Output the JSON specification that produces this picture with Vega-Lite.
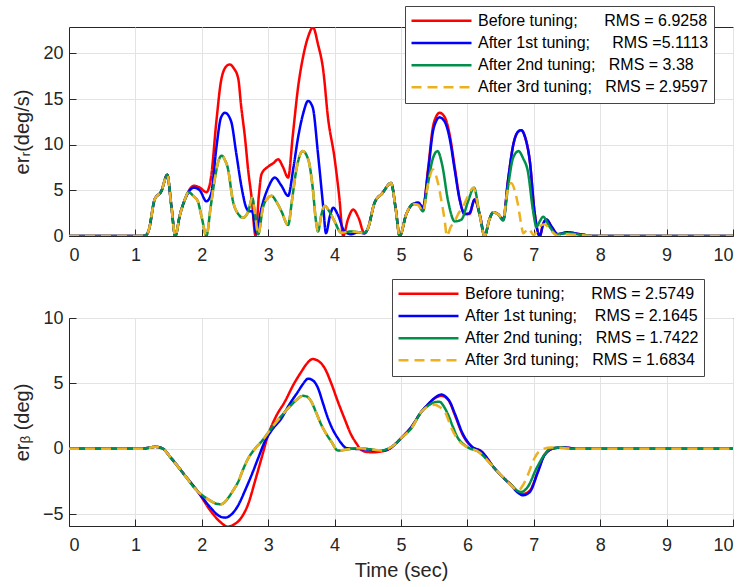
{
"$schema":"https://vega.github.io/schema/vega-lite/v6.json",
"padding":{"left":11,"top":5,"right":0,"bottom":5},
"background":"white",
"config":{
 "font":"Liberation Sans",
 "view":{"stroke":"#262626","strokeWidth":1},
 "axis":{"labelFont":"Liberation Sans","labelFontSize":18,"labelColor":"#262626","titleFont":"Liberation Sans, DejaVu Sans","titleFontSize":20,"titleFontWeight":"normal","titleColor":"#262626","gridColor":"#e3e3e3","gridWidth":1,"domainColor":"#262626","tickColor":"#262626","tickSize":-7}
},
"spacing":82,
"bounds":"flush",
"datasets":{
"top":[
{"s":"a","t":0,"v":0},{"s":"a","t":1.1,"v":0},{"s":"a","t":1.15,"v":0.05},{"s":"a","t":1.2,"v":0.6},{"s":"a","t":1.29,"v":4.0},{"s":"a","t":1.39,"v":4.9},{"s":"a","t":1.48,"v":6.7},{"s":"a","t":1.54,"v":3.4},{"s":"a","t":1.6,"v":0},{"s":"a","t":1.67,"v":2.3},{"s":"a","t":1.74,"v":3.9},{"s":"a","t":1.8,"v":4.9},
{"s":"a","t":1.88,"v":5.5},{"s":"a","t":1.97,"v":5.3},{"s":"a","t":2.07,"v":4.8},{"s":"a","t":2.14,"v":6.5},{"s":"a","t":2.22,"v":12.6},{"s":"a","t":2.29,"v":17.0},{"s":"a","t":2.37,"v":18.6},{"s":"a","t":2.42,"v":18.8},{"s":"a","t":2.48,"v":18.4},{"s":"a","t":2.55,"v":17.2},{"s":"a","t":2.59,"v":14.4},{"s":"a","t":2.65,"v":10.8},{"s":"a","t":2.7,"v":7.1},{"s":"a","t":2.75,"v":4.2},{"s":"a","t":2.81,"v":0},{"s":"a","t":2.86,"v":4.5},{"s":"a","t":2.9,"v":6.8},{"s":"a","t":3.0,"v":7.6},{"s":"a","t":3.08,"v":8.0},{"s":"a","t":3.15,"v":8.4},{"s":"a","t":3.22,"v":7.6},{"s":"a","t":3.3,"v":6.4},{"s":"a","t":3.37,"v":11.0},{"s":"a","t":3.45,"v":16.3},{"s":"a","t":3.53,"v":19.8},{"s":"a","t":3.6,"v":21.8},{"s":"a","t":3.675,"v":22.85},{"s":"a","t":3.75,"v":21.0},{"s":"a","t":3.83,"v":18.1},{"s":"a","t":3.9,"v":13.0},{"s":"a","t":4.0,"v":8.5},{"s":"a","t":4.07,"v":4.3},{"s":"a","t":4.13,"v":0},{"s":"a","t":4.2,"v":1.8},{"s":"a","t":4.28,"v":2.9},{"s":"a","t":4.36,"v":2.0},{"s":"a","t":4.45,"v":0.3},
{"s":"a","t":4.5,"v":0.8},{"s":"a","t":4.6,"v":3.6},{"s":"a","t":4.72,"v":4.7},{"s":"a","t":4.85,"v":5.8},{"s":"a","t":4.92,"v":3.0},{"s":"a","t":4.98,"v":0},{"s":"a","t":5.08,"v":2.4},{"s":"a","t":5.18,"v":3.5},
{"s":"a","t":5.26,"v":3.65},{"s":"a","t":5.33,"v":3.1},{"s":"a","t":5.41,"v":7.5},{"s":"a","t":5.48,"v":11.9},{"s":"a","t":5.53,"v":13.1},{"s":"a","t":5.58,"v":13.5},{"s":"a","t":5.66,"v":13.0},{"s":"a","t":5.73,"v":11.2},{"s":"a","t":5.81,"v":7.5},{"s":"a","t":5.88,"v":4.2},{"s":"a","t":5.96,"v":2.4},{"s":"a","t":6.03,"v":2.4},{"s":"a","t":6.11,"v":4.0},{"s":"a","t":6.19,"v":2.2},{"s":"a","t":6.26,"v":0},{"s":"a","t":6.33,"v":1.8},{"s":"a","t":6.39,"v":2.6},{"s":"a","t":6.46,"v":2.4},{"s":"a","t":6.54,"v":1.8},{"s":"a","t":6.61,"v":6.0},{"s":"a","t":6.7,"v":10.3},{"s":"a","t":6.76,"v":11.4},{"s":"a","t":6.81,"v":11.6},{"s":"a","t":6.87,"v":10.8},{"s":"a","t":6.94,"v":8.2},{"s":"a","t":7.01,"v":2.7},{"s":"a","t":7.09,"v":0},{"s":"a","t":7.14,"v":1.3},{"s":"a","t":7.19,"v":1.8},{"s":"a","t":7.27,"v":1.0},{"s":"a","t":7.36,"v":0.2},{"s":"a","t":7.5,"v":0.4},{"s":"a","t":7.7,"v":0.2},{"s":"a","t":7.9,"v":0},{"s":"a","t":10,"v":0},

{"s":"b","t":0,"v":0},{"s":"b","t":1.1,"v":0},{"s":"b","t":1.15,"v":0.05},{"s":"b","t":1.2,"v":0.6},{"s":"b","t":1.29,"v":4.0},{"s":"b","t":1.39,"v":4.9},{"s":"b","t":1.48,"v":6.7},{"s":"b","t":1.54,"v":3.4},{"s":"b","t":1.6,"v":0},{"s":"b","t":1.67,"v":2.3},{"s":"b","t":1.74,"v":3.9},{"s":"b","t":1.8,"v":4.8},
{"s":"b","t":1.88,"v":5.3},{"s":"b","t":1.97,"v":5.0},{"s":"b","t":2.07,"v":3.8},{"s":"b","t":2.14,"v":4.6},{"s":"b","t":2.22,"v":9.7},{"s":"b","t":2.29,"v":13.0},{"s":"b","t":2.35,"v":13.5},{"s":"b","t":2.44,"v":12.6},{"s":"b","t":2.52,"v":9.0},{"s":"b","t":2.6,"v":5.3},{"s":"b","t":2.67,"v":3.1},{"s":"b","t":2.72,"v":2.7},{"s":"b","t":2.76,"v":2.7},{"s":"b","t":2.82,"v":0.3},{"s":"b","t":2.9,"v":3.1},{"s":"b","t":3.0,"v":5.3},{"s":"b","t":3.1,"v":6.4},{"s":"b","t":3.2,"v":5.5},{"s":"b","t":3.3,"v":4.4},{"s":"b","t":3.38,"v":7.5},{"s":"b","t":3.45,"v":10.8},{"s":"b","t":3.53,"v":13.5},{"s":"b","t":3.6,"v":14.8},{"s":"b","t":3.67,"v":14.1},{"s":"b","t":3.75,"v":9.0},{"s":"b","t":3.83,"v":3.1},{"s":"b","t":3.87,"v":0.3},{"s":"b","t":3.93,"v":2.2},{"s":"b","t":3.98,"v":3.1},{"s":"b","t":4.05,"v":2.3},{"s":"b","t":4.15,"v":0.5},{"s":"b","t":4.25,"v":0.2},{"s":"b","t":4.35,"v":0.4},{"s":"b","t":4.45,"v":0.3},
{"s":"b","t":4.5,"v":0.8},{"s":"b","t":4.6,"v":3.6},{"s":"b","t":4.72,"v":4.7},{"s":"b","t":4.85,"v":5.8},{"s":"b","t":4.92,"v":3.0},{"s":"b","t":4.98,"v":0},{"s":"b","t":5.08,"v":2.4},{"s":"b","t":5.18,"v":3.5},
{"s":"b","t":5.26,"v":3.65},{"s":"b","t":5.33,"v":3.1},{"s":"b","t":5.41,"v":7.2},{"s":"b","t":5.48,"v":11.4},{"s":"b","t":5.53,"v":12.6},{"s":"b","t":5.58,"v":13.0},{"s":"b","t":5.66,"v":12.5},{"s":"b","t":5.73,"v":10.8},{"s":"b","t":5.81,"v":7.2},{"s":"b","t":5.88,"v":4.1},{"s":"b","t":5.96,"v":2.4},{"s":"b","t":6.03,"v":2.5},{"s":"b","t":6.11,"v":4.0},{"s":"b","t":6.19,"v":2.2},{"s":"b","t":6.26,"v":0},{"s":"b","t":6.33,"v":1.8},{"s":"b","t":6.39,"v":2.6},{"s":"b","t":6.46,"v":2.4},{"s":"b","t":6.54,"v":1.8},{"s":"b","t":6.61,"v":6.0},{"s":"b","t":6.7,"v":10.3},{"s":"b","t":6.76,"v":11.4},{"s":"b","t":6.81,"v":11.6},{"s":"b","t":6.87,"v":10.8},{"s":"b","t":6.94,"v":8.2},{"s":"b","t":7.01,"v":2.7},{"s":"b","t":7.09,"v":0},{"s":"b","t":7.14,"v":1.3},{"s":"b","t":7.19,"v":1.8},{"s":"b","t":7.27,"v":1.0},{"s":"b","t":7.36,"v":0.2},{"s":"b","t":7.5,"v":0.4},{"s":"b","t":7.7,"v":0.2},{"s":"b","t":7.9,"v":0},{"s":"b","t":10,"v":0},

{"s":"c","t":0,"v":0},{"s":"c","t":1.1,"v":0},{"s":"c","t":1.15,"v":0.05},{"s":"c","t":1.2,"v":0.6},{"s":"c","t":1.29,"v":4.0},{"s":"c","t":1.39,"v":4.9},{"s":"c","t":1.48,"v":6.7},{"s":"c","t":1.54,"v":3.4},{"s":"c","t":1.6,"v":0},{"s":"c","t":1.67,"v":2.3},{"s":"c","t":1.74,"v":3.9},{"s":"c","t":1.8,"v":4.8},
{"s":"c","t":1.87,"v":4.4},{"s":"c","t":1.94,"v":3.8},{"s":"c","t":2.0,"v":2.0},{"s":"c","t":2.07,"v":0},{"s":"c","t":2.13,"v":3.0},{"s":"c","t":2.19,"v":6.0},{"s":"c","t":2.25,"v":8.2},{"s":"c","t":2.3,"v":8.8},{"s":"c","t":2.35,"v":8.3},{"s":"c","t":2.39,"v":7.5},{"s":"c","t":2.47,"v":3.8},{"s":"c","t":2.55,"v":2.4},{"s":"c","t":2.62,"v":2.0},{"s":"c","t":2.7,"v":2.7},{"s":"c","t":2.76,"v":4.2},{"s":"c","t":2.8,"v":2.5},{"s":"c","t":2.85,"v":0.2},{"s":"c","t":2.92,"v":3.1},{"s":"c","t":3.0,"v":4.2},{"s":"c","t":3.05,"v":4.4},{"s":"c","t":3.12,"v":3.8},{"s":"c","t":3.2,"v":2.7},{"s":"c","t":3.3,"v":1.2},{"s":"c","t":3.36,"v":4.0},{"s":"c","t":3.42,"v":7.1},{"s":"c","t":3.52,"v":9.3},{"s":"c","t":3.58,"v":8.8},{"s":"c","t":3.62,"v":7.9},{"s":"c","t":3.67,"v":5.3},{"s":"c","t":3.72,"v":1.6},{"s":"c","t":3.75,"v":0.5},{"s":"c","t":3.8,"v":2.3},{"s":"c","t":3.85,"v":3.3},{"s":"c","t":3.92,"v":2.7},{"s":"c","t":4.0,"v":1.6},{"s":"c","t":4.1,"v":0.35},{"s":"c","t":4.25,"v":0.5},{"s":"c","t":4.45,"v":0.35},
{"s":"c","t":4.5,"v":0.8},{"s":"c","t":4.6,"v":3.6},{"s":"c","t":4.72,"v":4.7},{"s":"c","t":4.85,"v":5.8},{"s":"c","t":4.92,"v":3.0},{"s":"c","t":4.98,"v":0},{"s":"c","t":5.08,"v":2.4},{"s":"c","t":5.18,"v":3.5},
{"s":"c","t":5.26,"v":3.4},{"s":"c","t":5.33,"v":2.7},{"s":"c","t":5.4,"v":5.5},{"s":"c","t":5.48,"v":8.5},{"s":"c","t":5.55,"v":9.3},{"s":"c","t":5.62,"v":7.8},{"s":"c","t":5.71,"v":3.8},{"s":"c","t":5.81,"v":1.6},{"s":"c","t":5.91,"v":1.8},{"s":"c","t":6.01,"v":3.8},{"s":"c","t":6.1,"v":5.3},{"s":"c","t":6.18,"v":2.5},{"s":"c","t":6.26,"v":0},{"s":"c","t":6.33,"v":1.8},{"s":"c","t":6.39,"v":2.6},{"s":"c","t":6.46,"v":2.4},{"s":"c","t":6.54,"v":1.7},{"s":"c","t":6.61,"v":5.3},{"s":"c","t":6.69,"v":8.6},{"s":"c","t":6.77,"v":9.3},{"s":"c","t":6.84,"v":8.5},{"s":"c","t":6.91,"v":7.1},{"s":"c","t":6.99,"v":2.7},{"s":"c","t":7.04,"v":1.0},{"s":"c","t":7.09,"v":1.6},{"s":"c","t":7.14,"v":2.1},{"s":"c","t":7.24,"v":1.0},{"s":"c","t":7.34,"v":0.2},{"s":"c","t":7.5,"v":0.3},{"s":"c","t":7.7,"v":0.15},{"s":"c","t":7.9,"v":0},{"s":"c","t":10,"v":0},

{"s":"d","t":0,"v":0},{"s":"d","t":1.1,"v":0},{"s":"d","t":1.15,"v":0.05},{"s":"d","t":1.2,"v":0.6},{"s":"d","t":1.29,"v":4.0},{"s":"d","t":1.39,"v":4.9},{"s":"d","t":1.48,"v":6.7},{"s":"d","t":1.54,"v":3.4},{"s":"d","t":1.6,"v":0},{"s":"d","t":1.67,"v":2.3},{"s":"d","t":1.74,"v":3.9},{"s":"d","t":1.8,"v":4.8},
{"s":"d","t":1.87,"v":4.4},{"s":"d","t":1.94,"v":3.8},{"s":"d","t":2.0,"v":2.0},{"s":"d","t":2.07,"v":0},{"s":"d","t":2.13,"v":3.0},{"s":"d","t":2.19,"v":6.0},{"s":"d","t":2.25,"v":8.2},{"s":"d","t":2.3,"v":8.8},{"s":"d","t":2.35,"v":8.3},{"s":"d","t":2.39,"v":7.5},{"s":"d","t":2.47,"v":3.8},{"s":"d","t":2.55,"v":2.4},{"s":"d","t":2.62,"v":2.0},{"s":"d","t":2.7,"v":2.7},{"s":"d","t":2.76,"v":4.2},{"s":"d","t":2.8,"v":2.5},{"s":"d","t":2.85,"v":0.2},{"s":"d","t":2.92,"v":3.1},{"s":"d","t":3.0,"v":4.2},{"s":"d","t":3.05,"v":4.4},{"s":"d","t":3.12,"v":3.8},{"s":"d","t":3.2,"v":2.7},{"s":"d","t":3.3,"v":1.2},{"s":"d","t":3.36,"v":4.0},{"s":"d","t":3.42,"v":7.1},{"s":"d","t":3.52,"v":9.3},{"s":"d","t":3.58,"v":8.8},{"s":"d","t":3.62,"v":7.9},{"s":"d","t":3.67,"v":5.3},{"s":"d","t":3.72,"v":1.6},{"s":"d","t":3.75,"v":0.5},{"s":"d","t":3.8,"v":2.3},{"s":"d","t":3.85,"v":3.3},{"s":"d","t":3.92,"v":2.7},{"s":"d","t":4.0,"v":1.6},{"s":"d","t":4.1,"v":0.35},{"s":"d","t":4.25,"v":0.5},{"s":"d","t":4.45,"v":0.35},
{"s":"d","t":4.5,"v":0.8},{"s":"d","t":4.6,"v":3.6},{"s":"d","t":4.72,"v":4.7},{"s":"d","t":4.85,"v":5.8},{"s":"d","t":4.92,"v":3.0},{"s":"d","t":4.98,"v":0},{"s":"d","t":5.08,"v":2.4},{"s":"d","t":5.18,"v":3.5},
{"s":"d","t":5.26,"v":3.4},{"s":"d","t":5.33,"v":2.7},{"s":"d","t":5.41,"v":5.8},{"s":"d","t":5.48,"v":7.3},{"s":"d","t":5.56,"v":5.7},{"s":"d","t":5.61,"v":3.8},{"s":"d","t":5.66,"v":1.6},{"s":"d","t":5.69,"v":0},{"s":"d","t":5.75,"v":1.0},{"s":"d","t":5.81,"v":1.6},{"s":"d","t":5.86,"v":2.4},{"s":"d","t":5.94,"v":3.3},{"s":"d","t":6.01,"v":4.4},{"s":"d","t":6.09,"v":5.3},{"s":"d","t":6.18,"v":2.5},{"s":"d","t":6.26,"v":0},{"s":"d","t":6.33,"v":1.8},{"s":"d","t":6.39,"v":2.6},{"s":"d","t":6.46,"v":2.4},{"s":"d","t":6.54,"v":1.9},{"s":"d","t":6.6,"v":4.8},{"s":"d","t":6.66,"v":5.8},{"s":"d","t":6.72,"v":4.8},{"s":"d","t":6.76,"v":3.5},{"s":"d","t":6.81,"v":1.3},{"s":"d","t":6.84,"v":0.3},{"s":"d","t":6.92,"v":0.8},{"s":"d","t":7.0,"v":0.1},{"s":"d","t":7.08,"v":1.0},{"s":"d","t":7.16,"v":1.3},{"s":"d","t":7.26,"v":0.6},{"s":"d","t":7.36,"v":0},{"s":"d","t":7.5,"v":0.2},{"s":"d","t":7.7,"v":0.1},{"s":"d","t":7.9,"v":0},{"s":"d","t":10,"v":0}
],
"bot":[
{"s":"a","t":0,"v":0},{"s":"a","t":1.1,"v":0},{"s":"a","t":1.2,"v":0.08},{"s":"a","t":1.3,"v":0.15},{"s":"a","t":1.4,"v":0.05},{"s":"a","t":1.54,"v":-0.72},{"s":"a","t":1.74,"v":-2.0},{"s":"a","t":1.94,"v":-3.27},
{"s":"a","t":2.14,"v":-4.8},{"s":"a","t":2.28,"v":-5.6},{"s":"a","t":2.39,"v":-5.95},{"s":"a","t":2.48,"v":-5.8},{"s":"a","t":2.59,"v":-5.3},{"s":"a","t":2.7,"v":-4.2},{"s":"a","t":2.8,"v":-2.5},{"s":"a","t":2.9,"v":-0.7},{"s":"a","t":3.0,"v":1.07},{"s":"a","t":3.12,"v":2.5},{"s":"a","t":3.25,"v":3.6},{"s":"a","t":3.38,"v":4.9},{"s":"a","t":3.5,"v":5.9},{"s":"a","t":3.58,"v":6.5},{"s":"a","t":3.67,"v":6.86},{"s":"a","t":3.76,"v":6.7},{"s":"a","t":3.85,"v":6.17},{"s":"a","t":3.95,"v":5.0},{"s":"a","t":4.05,"v":3.6},{"s":"a","t":4.15,"v":2.3},{"s":"a","t":4.25,"v":1.07},{"s":"a","t":4.33,"v":0.4},{"s":"a","t":4.4,"v":-0.08},{"s":"a","t":4.5,"v":-0.25},{"s":"a","t":4.6,"v":-0.26},{"s":"a","t":4.7,"v":-0.2},{"s":"a","t":4.8,"v":-0.08},{"s":"a","t":4.9,"v":0.3},{"s":"a","t":5.0,"v":0.8},{"s":"a","t":5.16,"v":1.7},{"s":"a","t":5.31,"v":2.85},{"s":"a","t":5.41,"v":3.4},{"s":"a","t":5.51,"v":3.87},{"s":"a","t":5.61,"v":4.05},{"s":"a","t":5.68,"v":3.9},{"s":"a","t":5.73,"v":3.6},{"s":"a","t":5.81,"v":2.6},{"s":"a","t":5.93,"v":1.07},{"s":"a","t":6.06,"v":0.18},{"s":"a","t":6.21,"v":-0.2},{"s":"a","t":6.41,"v":-1.5},{"s":"a","t":6.56,"v":-2.3},{"s":"a","t":6.66,"v":-2.75},{"s":"a","t":6.76,"v":-3.3},{"s":"a","t":6.84,"v":-3.45},{"s":"a","t":6.94,"v":-3.2},{"s":"a","t":7.06,"v":-1.74},{"s":"a","t":7.16,"v":-0.46},{"s":"a","t":7.31,"v":0.05},{"s":"a","t":7.46,"v":0.1},{"s":"a","t":7.66,"v":0},{"s":"a","t":10,"v":0},

{"s":"b","t":0,"v":0},{"s":"b","t":1.1,"v":0},{"s":"b","t":1.2,"v":0.08},{"s":"b","t":1.3,"v":0.15},{"s":"b","t":1.4,"v":0.05},{"s":"b","t":1.54,"v":-0.72},{"s":"b","t":1.74,"v":-2.0},{"s":"b","t":1.94,"v":-3.27},
{"s":"b","t":2.14,"v":-4.54},{"s":"b","t":2.25,"v":-5.1},{"s":"b","t":2.35,"v":-5.26},{"s":"b","t":2.45,"v":-5.0},{"s":"b","t":2.55,"v":-4.3},{"s":"b","t":2.65,"v":-3.2},{"s":"b","t":2.75,"v":-2.0},{"s":"b","t":2.85,"v":-0.7},{"s":"b","t":2.95,"v":0.56},{"s":"b","t":3.05,"v":1.4},{"s":"b","t":3.2,"v":2.34},{"s":"b","t":3.32,"v":3.4},{"s":"b","t":3.45,"v":4.38},{"s":"b","t":3.53,"v":5.0},{"s":"b","t":3.6,"v":5.36},{"s":"b","t":3.68,"v":5.2},{"s":"b","t":3.75,"v":4.64},{"s":"b","t":3.83,"v":3.4},{"s":"b","t":3.9,"v":2.34},{"s":"b","t":3.98,"v":1.4},{"s":"b","t":4.05,"v":0.8},{"s":"b","t":4.12,"v":0.3},{"s":"b","t":4.18,"v":0.05},{"s":"b","t":4.3,"v":0},{"s":"b","t":4.5,"v":-0.05},{"s":"b","t":4.65,"v":-0.15},{"s":"b","t":4.8,"v":-0.05},{"s":"b","t":4.9,"v":0.3},{"s":"b","t":5.0,"v":0.8},{"s":"b","t":5.16,"v":1.7},{"s":"b","t":5.31,"v":2.85},{"s":"b","t":5.41,"v":3.42},{"s":"b","t":5.51,"v":3.9},{"s":"b","t":5.61,"v":4.15},{"s":"b","t":5.68,"v":3.95},{"s":"b","t":5.73,"v":3.65},{"s":"b","t":5.81,"v":2.7},{"s":"b","t":5.93,"v":1.15},{"s":"b","t":6.06,"v":0.2},{"s":"b","t":6.21,"v":-0.2},{"s":"b","t":6.41,"v":-1.5},{"s":"b","t":6.56,"v":-2.3},{"s":"b","t":6.66,"v":-2.8},{"s":"b","t":6.76,"v":-3.35},{"s":"b","t":6.84,"v":-3.55},{"s":"b","t":6.94,"v":-3.3},{"s":"b","t":7.06,"v":-1.8},{"s":"b","t":7.16,"v":-0.5},{"s":"b","t":7.31,"v":0.05},{"s":"b","t":7.46,"v":0.1},{"s":"b","t":7.66,"v":0},{"s":"b","t":10,"v":0},

{"s":"c","t":0,"v":0},{"s":"c","t":1.1,"v":0},{"s":"c","t":1.2,"v":0.08},{"s":"c","t":1.3,"v":0.15},{"s":"c","t":1.4,"v":0.05},{"s":"c","t":1.54,"v":-0.72},{"s":"c","t":1.74,"v":-2.0},{"s":"c","t":1.94,"v":-3.27},
{"s":"c","t":2.05,"v":-3.7},{"s":"c","t":2.14,"v":-4.0},{"s":"c","t":2.22,"v":-4.2},{"s":"c","t":2.29,"v":-4.24},{"s":"c","t":2.35,"v":-4.05},{"s":"c","t":2.39,"v":-3.8},{"s":"c","t":2.47,"v":-3.2},{"s":"c","t":2.55,"v":-2.5},{"s":"c","t":2.62,"v":-1.6},{"s":"c","t":2.7,"v":-0.72},{"s":"c","t":2.8,"v":0},{"s":"c","t":2.9,"v":0.56},{"s":"c","t":3.05,"v":1.58},{"s":"c","t":3.18,"v":2.4},{"s":"c","t":3.3,"v":3.1},{"s":"c","t":3.42,"v":3.7},{"s":"c","t":3.52,"v":4.05},{"s":"c","t":3.58,"v":4.0},{"s":"c","t":3.65,"v":3.6},{"s":"c","t":3.72,"v":2.8},{"s":"c","t":3.8,"v":1.84},{"s":"c","t":3.88,"v":1.1},{"s":"c","t":3.95,"v":0.56},{"s":"c","t":4.05,"v":-0.13},{"s":"c","t":4.15,"v":-0.08},{"s":"c","t":4.25,"v":0},{"s":"c","t":4.4,"v":0.05},{"s":"c","t":4.55,"v":-0.05},{"s":"c","t":4.7,"v":-0.13},{"s":"c","t":4.8,"v":0},{"s":"c","t":4.9,"v":0.3},{"s":"c","t":5.0,"v":0.8},{"s":"c","t":5.16,"v":1.6},{"s":"c","t":5.31,"v":2.85},{"s":"c","t":5.41,"v":3.3},{"s":"c","t":5.5,"v":3.55},{"s":"c","t":5.58,"v":3.6},{"s":"c","t":5.65,"v":3.2},{"s":"c","t":5.71,"v":2.6},{"s":"c","t":5.78,"v":1.7},{"s":"c","t":5.86,"v":0.8},{"s":"c","t":5.93,"v":0.4},{"s":"c","t":6.01,"v":0.1},{"s":"c","t":6.16,"v":-0.2},{"s":"c","t":6.41,"v":-1.5},{"s":"c","t":6.56,"v":-2.3},{"s":"c","t":6.66,"v":-2.75},{"s":"c","t":6.75,"v":-3.2},{"s":"c","t":6.81,"v":-3.3},{"s":"c","t":6.91,"v":-2.9},{"s":"c","t":7.04,"v":-1.5},{"s":"c","t":7.16,"v":-0.46},{"s":"c","t":7.26,"v":0.03},{"s":"c","t":7.41,"v":0.1},{"s":"c","t":7.6,"v":0},{"s":"c","t":10,"v":0},

{"s":"d","t":0,"v":0},{"s":"d","t":1.1,"v":0},{"s":"d","t":1.2,"v":0.08},{"s":"d","t":1.3,"v":0.15},{"s":"d","t":1.4,"v":0.05},{"s":"d","t":1.54,"v":-0.72},{"s":"d","t":1.74,"v":-2.0},{"s":"d","t":1.94,"v":-3.27},
{"s":"d","t":2.05,"v":-3.7},{"s":"d","t":2.14,"v":-4.0},{"s":"d","t":2.22,"v":-4.2},{"s":"d","t":2.29,"v":-4.24},{"s":"d","t":2.35,"v":-4.05},{"s":"d","t":2.39,"v":-3.8},{"s":"d","t":2.47,"v":-3.2},{"s":"d","t":2.55,"v":-2.5},{"s":"d","t":2.62,"v":-1.6},{"s":"d","t":2.7,"v":-0.72},{"s":"d","t":2.8,"v":0},{"s":"d","t":2.9,"v":0.56},{"s":"d","t":3.05,"v":1.58},{"s":"d","t":3.18,"v":2.4},{"s":"d","t":3.3,"v":3.1},{"s":"d","t":3.42,"v":3.7},{"s":"d","t":3.52,"v":4.05},{"s":"d","t":3.58,"v":4.0},{"s":"d","t":3.65,"v":3.6},{"s":"d","t":3.72,"v":2.8},{"s":"d","t":3.8,"v":1.84},{"s":"d","t":3.88,"v":1.1},{"s":"d","t":3.95,"v":0.56},{"s":"d","t":4.05,"v":-0.13},{"s":"d","t":4.15,"v":-0.08},{"s":"d","t":4.25,"v":0},{"s":"d","t":4.4,"v":0.05},{"s":"d","t":4.55,"v":-0.05},{"s":"d","t":4.7,"v":-0.13},{"s":"d","t":4.8,"v":0},{"s":"d","t":4.9,"v":0.3},{"s":"d","t":5.0,"v":0.8},{"s":"d","t":5.16,"v":1.6},{"s":"d","t":5.31,"v":2.85},
{"s":"d","t":5.41,"v":3.25},{"s":"d","t":5.51,"v":3.37},{"s":"d","t":5.58,"v":3.2},{"s":"d","t":5.66,"v":2.85},{"s":"d","t":5.76,"v":1.58},{"s":"d","t":5.88,"v":0.56},{"s":"d","t":6.01,"v":0.1},{"s":"d","t":6.16,"v":-0.2},{"s":"d","t":6.41,"v":-1.5},{"s":"d","t":6.56,"v":-2.3},{"s":"d","t":6.66,"v":-2.8},{"s":"d","t":6.76,"v":-3.2},{"s":"d","t":6.84,"v":-2.75},{"s":"d","t":6.91,"v":-2.0},{"s":"d","t":7.01,"v":-0.72},{"s":"d","t":7.11,"v":-0.08},{"s":"d","t":7.26,"v":0.1},{"s":"d","t":7.46,"v":0.05},{"s":"d","t":7.6,"v":0},{"s":"d","t":10,"v":0}
]
},
"vconcat":[
{
 "width":664,"height":209,
 "data":{"name":"top"},
 "mark":{"type":"line","strokeWidth":2.5,"interpolate":"monotone","clip":true},
 "encoding":{
  "x":{"field":"t","type":"quantitative","scale":{"domain":[0,10],"nice":false},"axis":{"title":null,"values":[0,1,2,3,4,5,6,7,8,9,10],"labelPadding":17,"grid":true}},
  "y":{"field":"v","type":"quantitative","scale":{"domain":[0,22.9],"nice":false},"axis":{"title":"erᵣ(deg/s)","values":[0,5,10,15,20],"labelPadding":13,"titlePadding":10,"grid":true}},
  "color":{"field":"s","type":"nominal","scale":{"domain":["a","b","c","d"],"range":["#ff0000","#0000ff","#00904a","#edb120"]},
   "legend":{"orient":"none","legendX":336,"legendY":-21,"title":null,"symbolType":"stroke","symbolSize":3600,"symbolStrokeWidth":2.5,"labelFont":"Liberation Sans","labelFontSize":16,"labelColor":"#000000","labelLimit":500,"labelOffset":5,"fillColor":"#ffffff","strokeColor":"#444444","padding":5,"clipHeight":19.5,"rowPadding":2.2,
   "labelExpr":"datum.label == 'a' ? 'Before tuning;\u00a0\u00a0\u00a0\u00a0\u00a0\u00a0RMS = 6.9258' : datum.label == 'b' ? 'After 1st tuning;\u00a0\u00a0\u00a0\u00a0\u00a0RMS =5.1113' : datum.label == 'c' ? 'After 2nd tuning;\u00a0\u00a0\u00a0RMS = 3.38' : 'After 3rd tuning;\u00a0\u00a0\u00a0RMS = 2.9597'"}},
  "strokeDash":{"field":"s","type":"nominal","scale":{"domain":["a","b","c","d"],"range":[[1,0],[1,0],[1,0],[10,6]]}}
 }
},
{
 "width":664,"height":208,
 "data":{"name":"bot"},
 "mark":{"type":"line","strokeWidth":2.5,"interpolate":"monotone","clip":true},
 "encoding":{
  "x":{"field":"t","type":"quantitative","scale":{"domain":[0,10],"nice":false},"axis":{"title":"Time (sec)","values":[0,1,2,3,4,5,6,7,8,9,10],"labelPadding":17,"titlePadding":6,"grid":true}},
  "y":{"field":"v","type":"quantitative","scale":{"domain":[-5.9,10],"nice":false},"axis":{"title":"erᵦ (deg)","values":[-5,0,5,10],"labelPadding":13,"titlePadding":10,"grid":true}},
  "color":{"field":"s","type":"nominal","scale":{"domain":["a","b","c","d"],"range":["#ff0000","#0000ff","#00904a","#edb120"]},
   "legend":{"orient":"none","legendX":323,"legendY":-39,"title":null,"symbolType":"stroke","symbolSize":3600,"symbolStrokeWidth":2.5,"labelFont":"Liberation Sans","labelFontSize":16,"labelColor":"#000000","labelLimit":500,"labelOffset":5,"fillColor":"#ffffff","strokeColor":"#444444","padding":5,"clipHeight":19.5,"rowPadding":2.2,
   "labelExpr":"datum.label == 'a' ? 'Before tuning;\u00a0\u00a0\u00a0\u00a0\u00a0\u00a0RMS = 2.5749' : datum.label == 'b' ? 'After 1st tuning;\u00a0\u00a0\u00a0\u00a0RMS = 2.1645' : datum.label == 'c' ? 'After 2nd tuning;\u00a0\u00a0\u00a0RMS = 1.7422' : 'After 3rd tuning;\u00a0\u00a0\u00a0RMS = 1.6834'"}},
  "strokeDash":{"field":"s","type":"nominal","scale":{"domain":["a","b","c","d"],"range":[[1,0],[1,0],[1,0],[10,6]]}}
 }
}
],
"resolve":{"scale":{"color":"independent","strokeDash":"independent"},"legend":{"color":"independent","strokeDash":"independent"}}
}
